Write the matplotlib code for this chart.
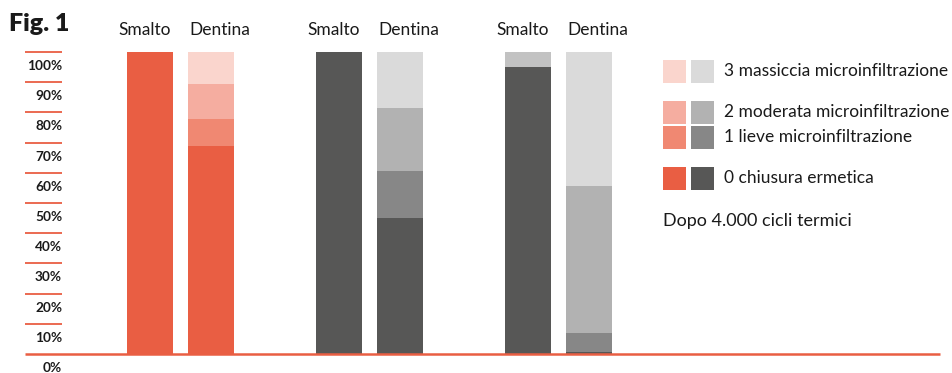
import matplotlib
matplotlib.use("Agg")
import matplotlib.pyplot as plt
from matplotlib.patches import Rectangle
from matplotlib.transforms import offset_copy

plt.rcParams['font.family'] = ['Lato', 'DejaVu Sans']

# ==================== dati ====================
# una colonna per barra: (Smalto, Dentina) x 3 gruppi
ETICHETTE_BARRE = ['Smalto', 'Dentina', 'Smalto', 'Dentina', 'Smalto', 'Dentina']
LIVELLO_0 = [100.0, 69.0, 100.0, 45.0, 95.0, 0.7]   # chiusura ermetica
LIVELLO_1 = [0.0, 8.7, 0.0, 15.6, 0.0, 6.3]         # lieve
LIVELLO_2 = [0.0, 11.6, 0.0, 20.8, 0.0, 48.5]       # moderata
LIVELLO_3 = [0.0, 10.7, 0.0, 18.6, 5.0, 44.5]       # massiccia

LEGENDA = ['0 chiusura ermetica', '1 lieve microinfiltrazione',
           '2 moderata microinfiltrazione', '3 massiccia microinfiltrazione']
NOTA = 'Dopo 4.000 cicli termici'
TICKS = list(range(0, 101, 10))

# ==================== stile ====================
ROSSI = ['#e95e43', '#f08872', '#f5ada0', '#fad5cd']
GRIGI = ['#575756', '#878787', '#b2b2b2', '#dadada']
PALETTE_BARRA = [ROSSI, ROSSI, GRIGI, GRIGI, GRIGI, GRIGI]
COLORE_EXTRA = {(4, 3): '#c2c2c2'}   # smalto gruppo 3, segmento superiore
LINEA = '#e95e43'
TESTO = '#1a1a1a'

W, H = 952, 373
X_BARRE = [150, 211, 339, 400, 528, 589]
LARGH = 46
Y0_PX, Y100_PX = 354, 52

fig = plt.figure(figsize=(W / 100, H / 100), dpi=100)
ax = fig.add_axes([0, (H - Y0_PX) / H, 1, (Y0_PX - Y100_PX) / H])
ax.set_xlim(0, W)
ax.set_ylim(0, 100)
ax.axis('off')

# --- barre impilate ---
livelli = [LIVELLO_0, LIVELLO_1, LIVELLO_2, LIVELLO_3]
for i, x in enumerate(X_BARRE):
    base = 0.0
    for k, serie in enumerate(livelli):
        v = serie[i]
        if v > 0:
            col = COLORE_EXTRA.get((i, k), PALETTE_BARRA[i][k])
            ax.bar(x, v, width=LARGH, bottom=base, color=col, linewidth=0, zorder=2)
        base += v

# --- asse y: trattini rossi + etichette sotto ---
lab_tr = offset_copy(ax.transData, fig=fig, x=0, y=-14, units='dots')
for t in TICKS:
    if t > 0:
        ax.plot([25, 62], [t, t], color=LINEA, lw=1.3, solid_capstyle='butt',
                zorder=3, clip_on=False)
    ax.text(62, t, f'{t}%', transform=lab_tr, ha='right', va='center',
            fontsize=9.8, fontweight='bold', color=TESTO)
ax.plot([25, 940], [0, 0], color=LINEA, lw=1.8, solid_capstyle='butt',
        zorder=3, clip_on=False)

# --- intestazioni colonne ---
for x, lab, dx in zip(X_BARRE, ETICHETTE_BARRE, [-5, 9] * 3):
    ax.text(x + dx, 107.4, lab, ha='center', va='center', fontsize=12.5,
            color=TESTO, clip_on=False)

# --- titolo e legenda (coordinate pixel) ---
ov = fig.add_axes([0, 0, 1, 1])
ov.set_xlim(0, W)
ov.set_ylim(H, 0)
ov.axis('off')
ov.patch.set_alpha(0)

ov.text(9, 24, 'Fig. 1', ha='left', va='center', fontsize=18,
        fontweight='heavy', color=TESTO)

righe_y = [178, 137, 112, 71]   # centri righe per livello 0..3
for k, (txt, yc) in enumerate(zip(LEGENDA, righe_y)):
    ov.add_patch(Rectangle((663, yc - 11.5), 23, 23, color=ROSSI[k], lw=0))
    ov.add_patch(Rectangle((691, yc - 11.5), 23, 23, color=GRIGI[k], lw=0))
    ov.text(724, yc, txt, ha='left', va='center', fontsize=12.5, color=TESTO)
ov.text(663, 221, NOTA, ha='left', va='center', fontsize=13, color=TESTO)

fig.savefig('out.png', dpi=100)
